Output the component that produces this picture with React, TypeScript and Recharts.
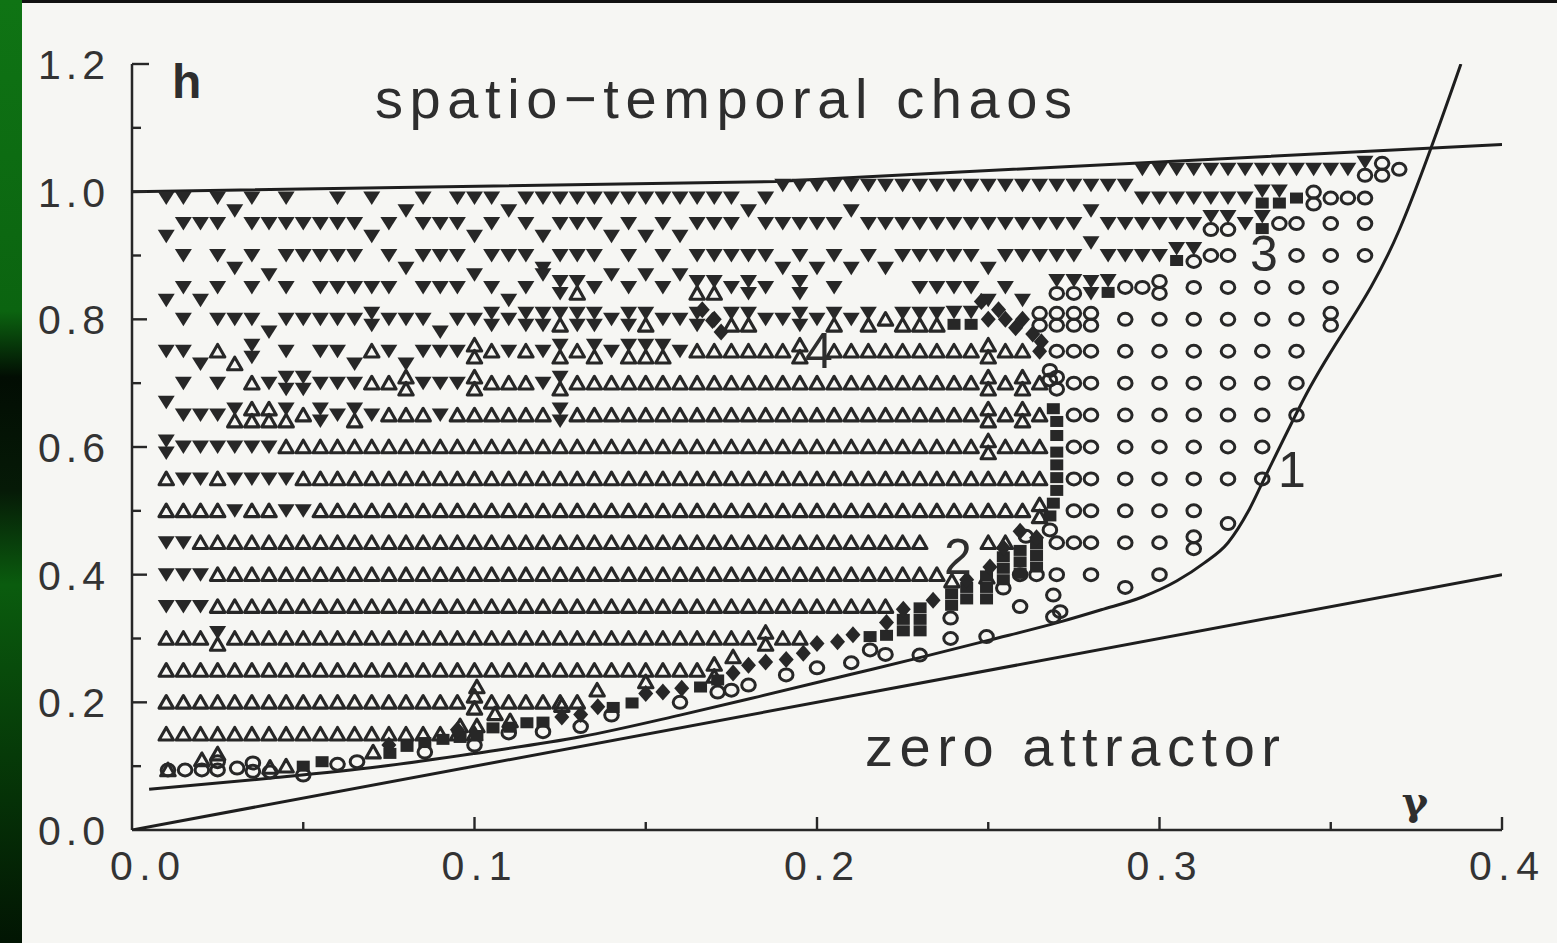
import React from "react";
import { ScatterChart, Scatter, XAxis, YAxis } from "recharts";

// gamma values of the simulation grid (one column per step)
const gammaGrid = [
  0.010, 0.015, 0.020, 0.025, 0.030, 0.035, 0.040, 0.045, 0.050, 0.055,
  0.060, 0.065, 0.070, 0.075, 0.080, 0.085, 0.090, 0.095, 0.100, 0.105,
  0.110, 0.115, 0.120, 0.125, 0.130, 0.135, 0.140, 0.145, 0.150, 0.155,
  0.160, 0.165, 0.170, 0.175, 0.180, 0.185, 0.190, 0.195, 0.200, 0.205,
  0.210, 0.215, 0.220, 0.225, 0.230, 0.235, 0.240, 0.245, 0.250, 0.255,
  0.260, 0.265, 0.270, 0.275, 0.280, 0.285, 0.290, 0.295, 0.300, 0.305,
  0.310, 0.315, 0.320, 0.325, 0.330, 0.335, 0.340, 0.345, 0.350, 0.355,
  0.360, 0.365, 0.370,
];

// h of each marker row
const hLevels = [
  1.035, 1.01, 0.99, 0.95, 0.9, 0.85, 0.8, 0.75, 0.7, 0.65,
  0.6, 0.55, 0.5, 0.45, 0.4, 0.35, 0.3, 0.25, 0.2, 0.15,
];

// one char per grid column:
// v down-tri, u/w down-tri a bit above/below, a up-tri, c up-tri below,
// o circle, l circle below, s square, d diamond,
// x down over up, y two downs, z two ups, p two circles, q down over square, r down over circle
const hRows = [
  ".......... .......... .......... .......... .......... .......vvv vvvvvvvvvv rpo",
  ".......... .......... .......... ......vvvv vvvvvvvvvv vvvvvvv...",
  "vv.v.v.v.. v.v..v.vvv .vvvvvvvvv vvvv.v.... .......... .......vvv vvvvqqspoo o",
  "wvvvuvvvvv vvwvuvvvwv uvwvvvwvwv wvvvuvvvvv uvvvvvvvvv vvvvuvvvvv vrrvqoo.o. o",
  ".v.vwv.vvv vv.vwvvv.v vvwvvv.v.v .vvvvvwvwv wvwvvvvvwv vvvvuvvvvq roo...o.o. o",
  "wvwv.vuv.v vvvv.vvvuv wvuyxvuvuv uxxvyv.y.v ....vvvvwv w.rryqoop. o.o.o.o.o.",
  ".v.vvvwvvv vvyvvvwvvy vyyxyyvyxv vydxxvvyvx vxaxxxqqdd dpppp.o.o. o.o.o.o.p.",
  "vvwacy.v.v vwavwvvvza vavxaxvxxx vaaaaaaz.a aaaaaaaaza adooo.o.o. o.o.o.o...",
  ".v.v.avyyv vvaazvvvza aavxaaaaaa aaaaaaaaaa aaaaaaaaza zapoo.o.o. o.o.o.o...",
  "uvvvxzzxay vxvaaavaaa aaayaaaaaa aaaaaaaaaa aaaaaaaaza za.oo.o.o. o.o.o.o...",
  "yvvvvvvaaa aaaaaaaaaa aaaaaaaaaa aaaaaaaaaa aaaaaaaaza aa.oo.o.o. o.o.o.....",
  "avvavvvvaa aaaaaaaaaa aaaaaaaaaa aaaaaaaaaa aaaaaaaaaa aa.oo.o.o. o.o.o.....",
  "aaaavaavva aaaaaaaaaa aaaaaaaaaa aaaaaaaaaa aaaaaaaaaa az.oo.o.o. o.l.......",
  "vvaaaaaaaa aaaaaaaaaa aaaaaaaaaa aaaaaaaaaa aaaaa...aa ..ooo.o.o. p.........",
  "vvvaaaaaaa aaaaaaaaaa aaaaaaaaaa aaaaaaaaaa aaaaaa.... ..o.o.l.o.",
  "vvvaaaaaaa aaaaaaaaaa aaaaaaaaaa aaaaaaaaaa aaa.......",
  "aaaxaaaaaa aaaaaaaaaa aaaaaaaaaa aaaaazaa..",
  "aaaaaaaaaa aaaaaaaaaa aaaaaaaaaa aaz.......",
  "aaaaaaaaaa aaaaaaaaza aaaaa.....",
  "aaaaaaaaaa aaaaaaaaa.",
];

// off-grid markers of the boundary band (gamma, h)
const bandSquares = [
  [0.05, 0.1], [0.0555, 0.107], [0.0753, 0.12], [0.0803, 0.131], [0.0855, 0.137],
  [0.0908, 0.142], [0.0958, 0.145], [0.1007, 0.148], [0.1054, 0.16], [0.1104, 0.161],
  [0.1153, 0.168], [0.12, 0.169], [0.1405, 0.192], [0.146, 0.199], [0.166, 0.224],
  [0.171, 0.235], [0.2155, 0.303], [0.2203, 0.305], [0.2252, 0.312], [0.2252, 0.33],
  [0.2301, 0.312], [0.2301, 0.33], [0.2301, 0.348], [0.2393, 0.352], [0.2393, 0.37],
  [0.2437, 0.362], [0.2437, 0.38], [0.2495, 0.362], [0.2495, 0.38], [0.2495, 0.398],
  [0.2544, 0.392], [0.2544, 0.41], [0.2544, 0.428], [0.2593, 0.402], [0.2593, 0.42],
  [0.2593, 0.438], [0.2641, 0.412], [0.2641, 0.43], [0.2641, 0.448], [0.268, 0.492],
  [0.269, 0.512], [0.27, 0.532], [0.27, 0.552], [0.27, 0.572], [0.27, 0.592],
  [0.27, 0.618], [0.27, 0.64], [0.269, 0.66],
];

const bandDiamonds = [
  [0.075, 0.133], [0.095, 0.157], [0.1255, 0.177], [0.131, 0.181], [0.136, 0.193],
  [0.15, 0.214], [0.155, 0.216], [0.1605, 0.222], [0.1755, 0.246], [0.18, 0.258],
  [0.185, 0.263], [0.191, 0.267], [0.196, 0.277], [0.2, 0.292], [0.206, 0.295],
  [0.2105, 0.306], [0.2203, 0.325], [0.2252, 0.346], [0.2339, 0.36], [0.2437, 0.392],
  [0.2505, 0.412], [0.2544, 0.442], [0.2593, 0.468], [0.2641, 0.458],
  [0.248, 0.828], [0.253, 0.815], [0.258, 0.787], [0.263, 0.777], [0.2655, 0.765],
  [0.1665, 0.815], [0.1695, 0.798], [0.172, 0.78],
];

const bandCircles = [
  [0.0105, 0.094], [0.0155, 0.094], [0.0204, 0.094], [0.025, 0.094], [0.025, 0.107],
  [0.0307, 0.097], [0.0353, 0.092], [0.0353, 0.105], [0.0403, 0.091], [0.05, 0.086],
  [0.06, 0.103], [0.0657, 0.107], [0.0855, 0.122], [0.1, 0.133], [0.11, 0.152],
  [0.12, 0.154], [0.131, 0.162], [0.14, 0.18], [0.16, 0.2], [0.171, 0.216],
  [0.175, 0.219], [0.18, 0.227], [0.191, 0.243], [0.2, 0.254], [0.21, 0.262],
  [0.2155, 0.282], [0.22, 0.275], [0.23, 0.274], [0.239, 0.3], [0.239, 0.332],
  [0.2495, 0.303], [0.2544, 0.379], [0.2593, 0.35], [0.269, 0.368], [0.269, 0.334],
  [0.271, 0.342], [0.2641, 0.4], [0.2593, 0.4], [0.261, 0.46], [0.268, 0.47],
  [0.268, 0.705], [0.268, 0.72],
];

const bandTriangles = [
  [0.0105, 0.094], [0.0204, 0.11], [0.025, 0.119], [0.0403, 0.098], [0.045, 0.1],
  [0.0704, 0.122], [0.0958, 0.163], [0.1007, 0.163], [0.1104, 0.171], [0.1007, 0.224],
  [0.106, 0.182], [0.1255, 0.195], [0.1358, 0.219], [0.15, 0.232], [0.1755, 0.271],
  [0.2394, 0.39], [0.2496, 0.396],
];

// boundary curves
const curveGamma = [0.005, 0.04, 0.072, 0.1, 0.131, 0.16, 0.183, 0.21, 0.23, 0.25, 0.271, 0.283, 0.295, 0.305, 0.313, 0.32, 0.326, 0.331, 0.342, 0.37, 0.388];
const curveH = [0.064, 0.081, 0.099, 0.12, 0.146, 0.18, 0.209, 0.244, 0.27, 0.297, 0.326, 0.345, 0.365, 0.39, 0.418, 0.45, 0.5, 0.555, 0.674, 0.94, 1.2];
const chaosGamma = [0, 0.188, 0.4];
const chaosH = [1.0, 1.016, 1.074];
const zeroGamma = [0, 0.4];
const zeroH = [0, 0.4];

const xTicks = [0, 0.05, 0.1, 0.15, 0.2, 0.25, 0.3, 0.35, 0.4];
const yTicks = [0, 0.1, 0.2, 0.3, 0.4, 0.5, 0.6, 0.7, 0.8, 0.9, 1.0, 1.1, 1.2];

const INK = "#272727";
const FONT = "'Liberation Sans', Arial, sans-serif";

type Pt = { x: number; y: number };

const kindOf: Record<string, string> = {
  v: "down", u: "down", w: "down", a: "up", c: "up", o: "circle", l: "circle",
  s: "square", d: "diamond", x: "hourglass", y: "downPair", z: "upPair",
  p: "circlePair", q: "downSquare", r: "downCircle",
};
const shiftOf: Record<string, number> = { u: 0.02, w: -0.02, c: -0.02, l: -0.02 };

function buildPoints() {
  const out: Record<string, Pt[]> = {};
  const add = (k: string, p: Pt) => {
    (out[k] = out[k] || []).push(p);
  };
  hRows.forEach((row, r) => {
    const cells = row.replace(/ /g, "");
    for (let i = 0; i < cells.length; i++) {
      const ch = cells[i];
      const k = kindOf[ch];
      if (!k) continue;
      add(k, { x: gammaGrid[i], y: hLevels[r] + (shiftOf[ch] || 0) });
    }
  });
  bandSquares.forEach(([x, y]) => add("square", { x, y }));
  bandDiamonds.forEach(([x, y]) => add("diamond", { x, y }));
  bandCircles.forEach(([x, y]) => add("circle", { x, y }));
  bandTriangles.forEach(([x, y]) => add("up", { x, y }));
  return out;
}

const toPts = (xs: number[], ys: number[]) => xs.map((x, i) => ({ x, y: ys[i] }));

const down = (cx: number, cy: number, key?: string) => (
  <polygon key={key} points={`${cx - 8.5},${cy - 6.5} ${cx + 8.5},${cy - 6.5} ${cx},${cy + 7}`} fill={INK} />
);
const up = (cx: number, cy: number, key?: string) => (
  <polygon key={key} points={`${cx - 7.2},${cy + 5.8} ${cx + 7.2},${cy + 5.8} ${cx},${cy - 6.8}`}
    fill="none" stroke={INK} strokeWidth={3.1} strokeLinejoin="round" />
);
const circ = (cx: number, cy: number, key?: string) => (
  <ellipse key={key} cx={cx} cy={cy} rx={6.8} ry={6} fill="none" stroke={INK} strokeWidth={3} />
);
const square = (cx: number, cy: number, key?: string) => (
  <rect key={key} x={cx - 6.5} y={cy - 5.5} width={13} height={11} fill={INK} />
);
const diamond = (cx: number, cy: number, key?: string) => (
  <polygon key={key} points={`${cx},${cy - 8.5} ${cx + 7.5},${cy} ${cx},${cy + 8.5} ${cx - 7.5},${cy}`} fill={INK} />
);

function glyph(kind: string, cx: number, cy: number) {
  switch (kind) {
    case "down": return down(cx, cy);
    case "up": return up(cx, cy);
    case "circle": return circ(cx, cy);
    case "square": return square(cx, cy);
    case "diamond": return diamond(cx, cy);
    case "hourglass": return <g>{down(cx, cy - 6, "a")}{up(cx, cy + 6, "b")}</g>;
    case "downPair": return <g>{down(cx, cy - 6, "a")}{down(cx, cy + 6, "b")}</g>;
    case "upPair": return <g>{up(cx, cy - 6, "a")}{up(cx, cy + 6, "b")}</g>;
    case "circlePair": return <g>{circ(cx, cy - 6, "a")}{circ(cx, cy + 6, "b")}</g>;
    case "downSquare": return <g>{down(cx, cy - 7, "a")}{square(cx, cy + 5, "b")}</g>;
    case "downCircle": return <g>{down(cx, cy - 7, "a")}{circ(cx, cy + 6, "b")}</g>;
    default: return <g />;
  }
}

function XTick(props: any) {
  const { x, y, payload } = props;
  const v = payload.value as number;
  const major = Math.round(v * 100) % 10 === 0;
  return (
    <g>
      {v > 0 && <line x1={x} x2={x} y1={y} y2={y - (major ? 13 : 8)} stroke={INK} strokeWidth={2.4} />}
      {major && (
        <text x={x + (v === 0 ? 13 : 2)} y={y + 50} textAnchor="middle" fontSize={41}
          fontFamily={FONT} fill="#333" textLength={70} lengthAdjust="spacing">
          {v.toFixed(1)}
        </text>
      )}
    </g>
  );
}

function YTick(props: any) {
  const { x, y, payload } = props;
  const v = payload.value as number;
  const k = Math.round(v * 10);
  const major = k % 2 === 0;
  return (
    <g>
      {v > 0 && <line x1={x} x2={x + (k === 12 ? 17 : major ? 15 : 9)} y1={y} y2={y} stroke={INK} strokeWidth={2.4} />}
      {major && (
        <text x={105} y={y + 15} textAnchor="end" fontSize={41} fontFamily={FONT}
          fill="#333" textLength={67} lengthAdjust="spacing">
          {v.toFixed(1)}
        </text>
      )}
    </g>
  );
}

const markerKinds = [
  "up", "upPair", "down", "downPair", "hourglass", "circle", "circlePair",
  "square", "diamond", "downSquare", "downCircle",
];

export default function App() {
  const pts = buildPoints();
  const lineStyle = { stroke: "#1e1e1e", strokeWidth: 3 };
  return (
    <div style={{ position: "fixed", left: 0, top: 0, width: 1557, height: 943, background: "#f6f6f3", overflow: "hidden" }}>
      <div style={{ position: "absolute", left: 0, top: 0, width: 1557, height: 3, background: "#111" }} />
      <div
        style={{
          position: "absolute", left: 0, top: 0, width: 22, height: 943,
          background: "linear-gradient(to bottom, #0f7414 0%, #0b6410 33%, #020d03 40%, #061a07 52%, #0a5c0e 62%, #063a08 80%, #021503 100%)",
        }}
      />
      <div style={{ position: "absolute", left: 0, top: 0 }}>
        <ScatterChart width={1557} height={943} margin={{ top: 64, right: 55, bottom: 103, left: 122 }}>
          <XAxis type="number" dataKey="x" domain={[0, 0.4]} ticks={xTicks} interval={0}
            height={10} tickSize={0} tickMargin={0} tickLine={false} allowDataOverflow
            axisLine={{ stroke: INK, strokeWidth: 2.5 }} tick={XTick} />
          <YAxis type="number" dataKey="y" domain={[0, 1.2]} ticks={yTicks} interval={0}
            width={10} tickSize={0} tickMargin={0} tickLine={false} allowDataOverflow
            axisLine={{ stroke: INK, strokeWidth: 2.5 }} tick={YTick} />
          <Scatter data={toPts(zeroGamma, zeroH)} line={lineStyle} shape={() => <g />} isAnimationActive={false} />
          <Scatter data={toPts(chaosGamma, chaosH)} line={lineStyle} shape={() => <g />} isAnimationActive={false} />
          <Scatter data={toPts(curveGamma, curveH)} line={lineStyle} lineJointType="monotoneX"
            shape={() => <g />} isAnimationActive={false} />
          {markerKinds.map((k) => (
            <Scatter key={k} data={pts[k] || []} isAnimationActive={false}
              shape={(p: any) => glyph(k, p.cx, p.cy)} />
          ))}
        </ScatterChart>
      </div>
      <svg width={1557} height={943} style={{ position: "absolute", left: 0, top: 0, pointerEvents: "none" }}>
        <g fontFamily={FONT} fill="#2e2e2e">
          <text x={172} y={98} fontSize={48} fontWeight="bold">h</text>
          <text x={375} y={118} fontSize={56} textLength={697} lengthAdjust="spacing">spatio−temporal chaos</text>
          <text x={865} y={766} fontSize={56} textLength={415} lengthAdjust="spacing">zero attractor</text>
          <text x={1415} y={815} fontSize={40} textAnchor="middle" fontWeight="bold"
            fontFamily="'DejaVu Serif', 'Liberation Serif', serif">γ</text>
          <text x={1292} y={487} fontSize={50} textAnchor="middle">1</text>
          <text x={958} y={574} fontSize={50} textAnchor="middle">2</text>
          <text x={1264} y={271} fontSize={50} textAnchor="middle">3</text>
          <text x={819} y={368} fontSize={50} textAnchor="middle">4</text>
        </g>
      </svg>
    </div>
  );
}
